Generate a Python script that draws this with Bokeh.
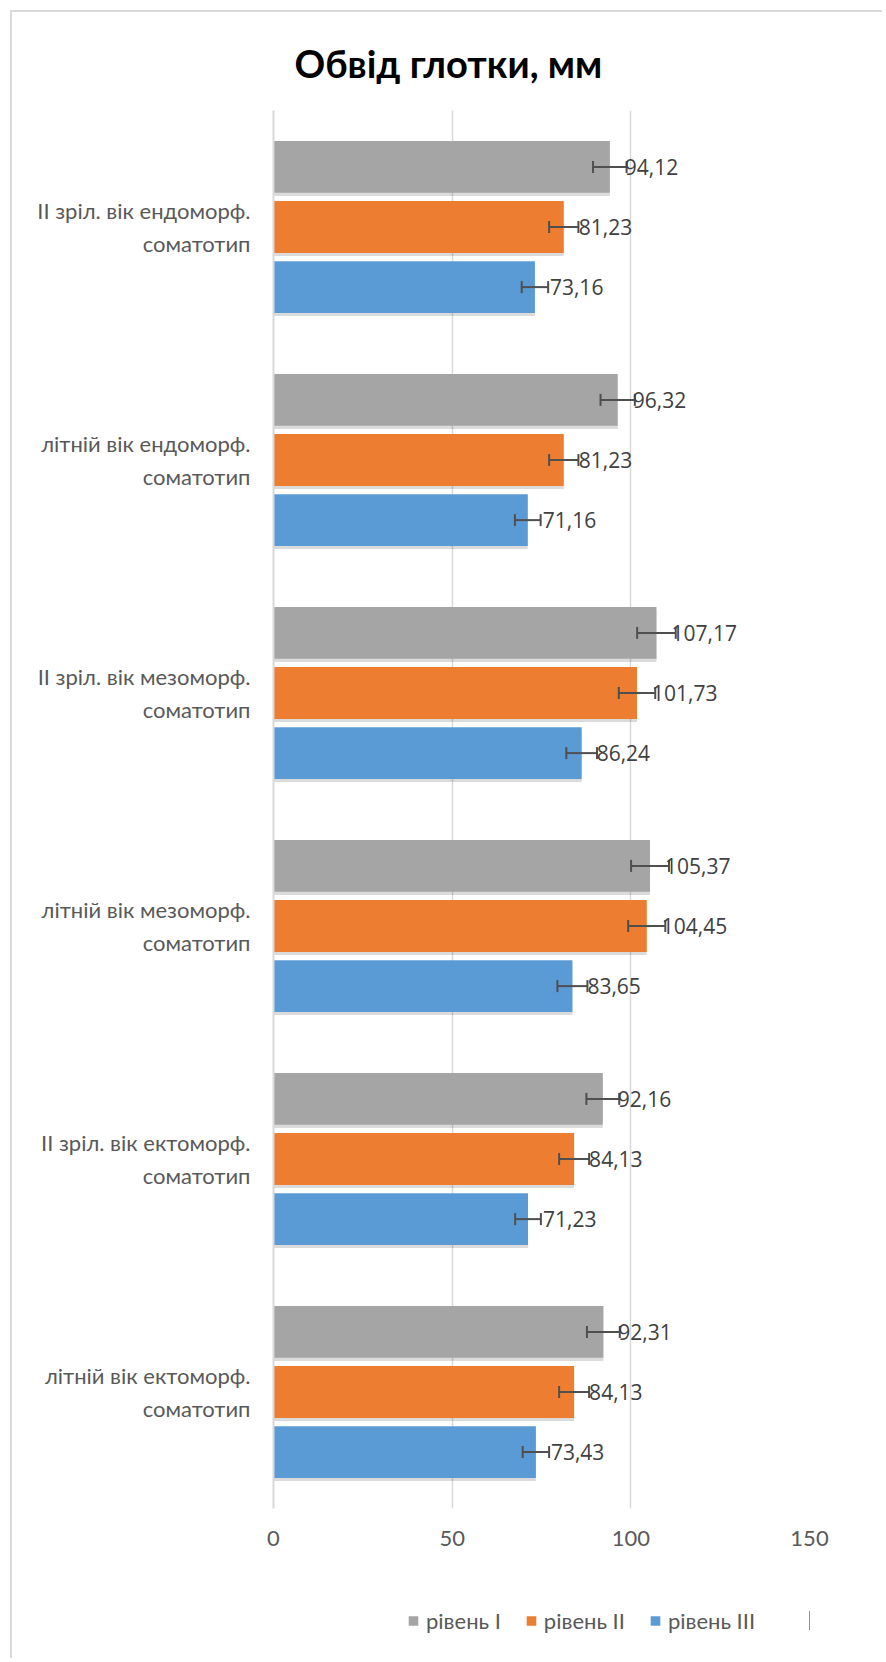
import math
from bokeh.plotting import figure
from bokeh.layouts import column
from bokeh.models import (ColumnDataSource, FactorRange, Range1d, Legend,
                          LegendItem, FixedTicker)
from bokeh.transform import dodge
from bokeh.core.properties import value
from bokeh.embed import file_html
from bokeh.resources import INLINE

# ---------------- data ----------------
categories = [
    "II зріл. вік ендоморф.\nсоматотип",
    "літній вік ендоморф.\nсоматотип",
    "II зріл. вік мезоморф.\nсоматотип",
    "літній вік мезоморф.\nсоматотип",
    "II зріл. вік ектоморф.\nсоматотип",
    "літній вік ектоморф.\nсоматотип",
]
level_1 = [94.12, 96.32, 107.17, 105.37, 92.16, 92.31]
level_2 = [81.23, 81.23, 101.73, 104.45, 84.13, 84.13]
level_3 = [73.16, 71.16, 86.24, 83.65, 71.23, 73.43]
err_1 = [4.7, 4.8, 5.4, 5.3, 4.6, 4.6]
err_2 = [4.1, 4.1, 5.1, 5.2, 4.2, 4.2]
err_3 = [3.7, 3.6, 4.3, 4.2, 3.6, 3.7]
series_names = ["рівень I", "рівень II", "рівень III"]
x_ticks = [0, 50, 100, 150]
title_text = "Обвід глотки, мм"

# ---------------- styles ----------------
colors = ["#a5a5a5", "#ed7d31", "#5b9bd5"]
offsets = [0.258, 0.0, -0.258]
bar_h = 0.223
W, H = 872, 1572
FL, FR, FT, FB = 261, 797, 96, 1496
LEG_H = 76

p = figure(width=W, height=H,
           y_range=FactorRange(factors=list(reversed(categories))),
           x_range=Range1d(0, 150),
           output_backend="svg", toolbar_location=None,
           min_border_left=FL, min_border_right=W - FR,
           min_border_top=FT, min_border_bottom=H - FB)
p.outline_line_color = None
p.background_fill_color = "white"
p.border_fill_color = "white"
p.styles = {"margin-left": "10px", "margin-top": "10px",
            "border-left": "2px solid #d9d9d9", "border-top": "2px solid #d9d9d9"}

vals = [level_1, level_2, level_3]
errs = [err_1, err_2, err_3]
for k in range(3):
    v = vals[k]
    e = errs[k]
    src = ColumnDataSource(dict(
        cat=categories, val=v,
        lo=[a - b for a, b in zip(v, e)],
        hi=[a + b for a, b in zip(v, e)],
        lab=[f"{a:.2f}".replace(".", ",") for a in v],
    ))
    # soft shadow
    p.hbar(y=dodge("cat", offsets[k] - 0.013, range=p.y_range), left=0, right="val",
           height=bar_h, source=src, fill_color="black", fill_alpha=0.14,
           line_color=None)
    p.hbar(y=dodge("cat", offsets[k], range=p.y_range), left=0, right="val",
           height=bar_h, source=src, fill_color=colors[k], line_color=None)
    yy = dodge("cat", offsets[k], range=p.y_range)
    p.segment(x0="lo", x1="hi", y0=yy, y1=yy, source=src,
              line_color="#4f4f4f", line_width=2)
    p.scatter(x="lo", y=yy, source=src, marker="dash", angle=math.pi / 2,
              size=12, line_color="#4f4f4f", line_width=2)
    p.scatter(x="hi", y=yy, source=src, marker="dash", angle=math.pi / 2,
              size=12, line_color="#4f4f4f", line_width=2)
    p.text(x="val", y=yy, text="lab", source=src, x_offset=15,
           text_align="left", text_baseline="middle",
           text_font=value("Open Sans"), text_font_size="21px",
           text_color="#404040")

# x axis
p.xaxis.ticker = FixedTicker(ticks=x_ticks)
p.xaxis.axis_line_color = None
p.xaxis.major_tick_line_color = None
p.xaxis.minor_tick_line_color = None
p.xaxis.major_tick_out = 0
p.xaxis.major_tick_in = 0
p.xaxis.major_label_standoff = 22
p.xaxis.major_label_text_font = "Lato"
p.xaxis.major_label_text_font_size = "22px"
p.xaxis.major_label_text_color = "#595959"

# category axis
p.yaxis.axis_line_color = "#d9d9d9"
p.yaxis.axis_line_width = 2
p.yaxis.major_tick_line_color = None
p.yaxis.minor_tick_line_color = None
p.yaxis.major_tick_out = 0
p.yaxis.major_tick_in = 0
p.yaxis.major_label_standoff = 23
p.yaxis.major_label_text_font = "Lato"
p.yaxis.major_label_text_font_size = "22px"
p.yaxis.major_label_text_color = "#595959"
p.yaxis.major_label_text_line_height = 1.2

p.xgrid.ticker = FixedTicker(ticks=x_ticks)
p.xgrid.grid_line_color = "#d9d9d9"
p.xgrid.grid_line_width = 1.5
p.ygrid.grid_line_color = None

# title
p.title.text = title_text
p.title.align = "left"
p.title.offset = 21
p.title.standoff = 50
p.title.text_font = "Lato"
p.title.text_font_style = "bold"
p.title.text_font_size = "38px"
p.title.text_color = "#000000"

# ---------------- legend strip below the chart ----------------
# The series are drawn here again only to give the legend its swatches;
# the x range keeps those bars out of view.
p2 = figure(width=W, height=LEG_H, output_backend="svg", toolbar_location=None,
            x_axis_location=None, y_axis_location=None,
            x_range=Range1d(-20, -10), y_range=Range1d(-1, 1),
            min_border_left=0, min_border_right=0, min_border_top=0,
            min_border_bottom=0)
p2.outline_line_color = None
p2.grid.visible = False
p2.background_fill_color = "white"
p2.border_fill_color = "white"
p2.styles = {"margin-left": "10px", "border-left": "2px solid #d9d9d9"}
leg_renderers = []
for k in range(3):
    leg_src = ColumnDataSource(dict(y=[0] * len(vals[k]), right=vals[k]))
    leg_renderers.append(p2.hbar(y="y", left=0, right="right", height=0.5,
                                 source=leg_src, fill_color=colors[k],
                                 line_color=None))
legend = Legend(items=[LegendItem(label=series_names[k], renderers=[leg_renderers[k]])
                       for k in range(3)],
                orientation="horizontal", location="left",
                glyph_width=12, glyph_height=12, label_standoff=7, spacing=24,
                padding=0, margin=(FL + 7) // 2, border_line_alpha=0,
                background_fill_alpha=0,
                label_text_font="Lato", label_text_font_size="22px",
                label_text_color="#595959", label_height=22)
p2.add_layout(legend, "center")

layout = column(p, p2, spacing=0)
open("out.html", "w").write(file_html(layout, INLINE))
